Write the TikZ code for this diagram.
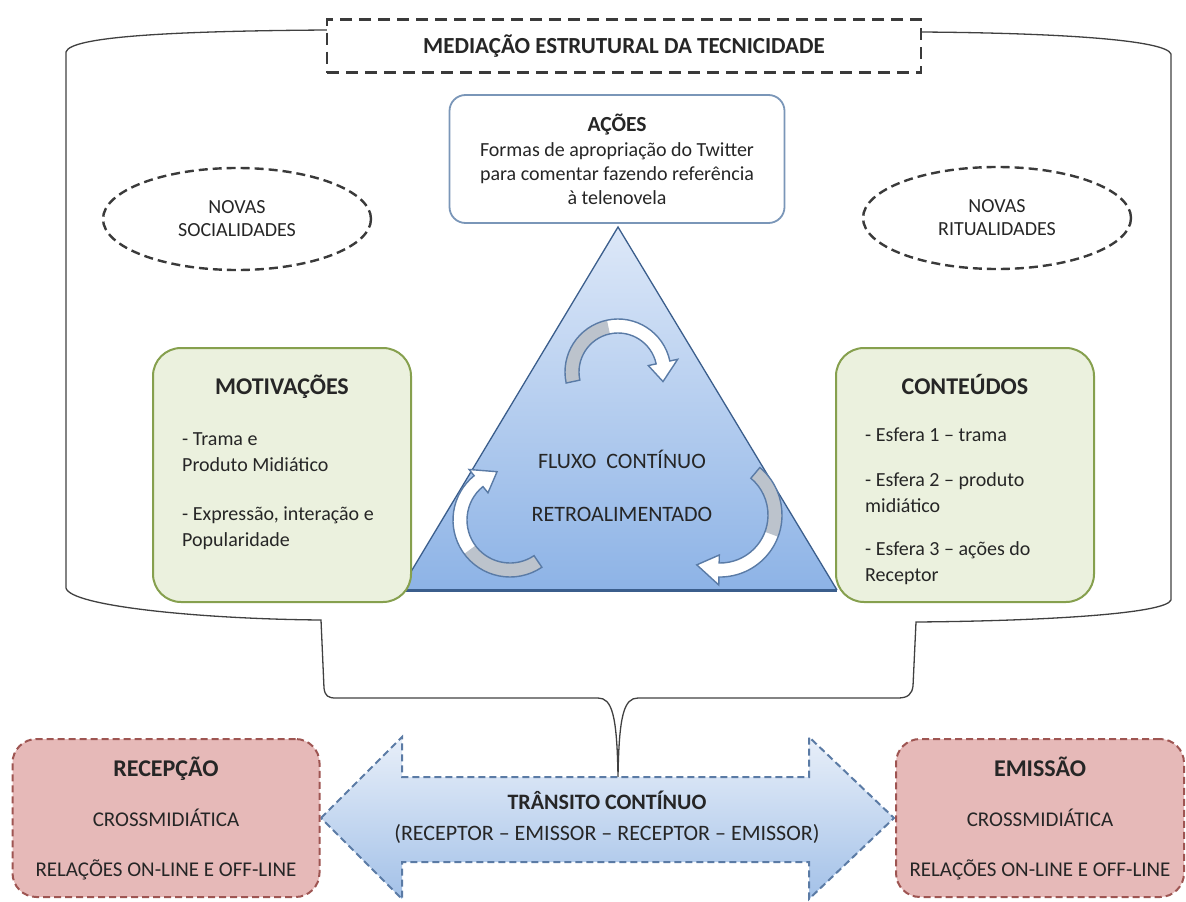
\documentclass[tikz,border=0pt]{standalone}
\usepackage{fontspec}
\setmainfont{Carlito}
\usepackage{tikz}
\usetikzlibrary{shapes.geometric,positioning,calc}
\definecolor{titlegray}{HTML}{3A3A3A}
\definecolor{bracegray}{HTML}{404040}
\definecolor{textgray}{HTML}{262626}
\definecolor{actblue}{HTML}{7A96B8}
\definecolor{boxgreen}{HTML}{86A04E}
\definecolor{fillgreen}{HTML}{EBF1DE}
\definecolor{boxred}{HTML}{9E5552}
\definecolor{fillred}{HTML}{E6B9B8}
\definecolor{tritop}{HTML}{DDE8F8}
\definecolor{tribottom}{HTML}{8DB3E6}
\definecolor{triedge}{HTML}{3B5E8C}
\definecolor{arrowtop}{HTML}{E8EFF9}
\definecolor{arrowbottom}{HTML}{A3C1E8}
\definecolor{arrowedge}{HTML}{5B7BA5}
\definecolor{fluxblue}{HTML}{5A7BA6}
\definecolor{fluxgray}{HTML}{BCC3CC}

% curved block arrow: centre x, centre y, radius, start angle, end angle
\newcommand{\fluxarrow}[5]{%
  \begin{scope}[shift={(#1,#2)}]
    \pgfmathsetmacro{\fbend}{#5+24}
    \pgfmathsetmacro{\fmid}{#4+0.5*(\fbend-#4)}
    \pgfmathsetmacro{\fro}{#3+7}
    \pgfmathsetmacro{\fri}{#3-7}
    \pgfmathsetmacro{\fho}{#3+15}
    \pgfmathsetmacro{\fhi}{#3-15}
    \fill[white] (#4:\fro) arc[start angle=#4, end angle=\fbend, radius=\fro] -- (\fbend:\fho) -- (#5:#3) -- (\fbend:\fhi) -- (\fbend:\fri) arc[start angle=\fbend, end angle=#4, radius=\fri] -- cycle;
    \fill[fluxgray] (#4:\fro) arc[start angle=#4, end angle=\fmid, radius=\fro] -- (\fmid:\fri) arc[start angle=\fmid, end angle=#4, radius=\fri] -- cycle;
    \draw[flux] (#4:\fro) arc[start angle=#4, end angle=\fbend, radius=\fro] -- (\fbend:\fho) -- (#5:#3) -- (\fbend:\fhi) -- (\fbend:\fri) arc[start angle=\fbend, end angle=#4, radius=\fri] -- cycle;
  \end{scope}}

\begin{document}
\begin{tikzpicture}[
  x=1pt, y=1pt,
  titlebox/.style={draw=titlegray, dash pattern=on 12pt off 7pt, line width=2.6pt, minimum width=594pt, minimum height=53pt, font=\fontsize{23}{28}\selectfont\bfseries},
  actbox/.style={draw=actblue, line width=1.8pt, rounded corners=16pt, fill=white, minimum width=335pt, minimum height=128pt, align=center, font=\fontsize{20}{24}\selectfont},
  greenbox/.style={draw=boxgreen, fill=fillgreen, line width=2pt, rounded corners=28pt, minimum width=258pt, minimum height=254pt},
  pinkbox/.style={draw=boxred, fill=fillred, dash pattern=on 7pt off 4pt, line width=2pt, rounded corners=24pt, minimum height=158pt, align=center, font=\fontsize{21}{50}\selectfont},
  social/.style={ellipse, draw=titlegray, dash pattern=on 9pt off 5pt, line width=2.4pt, minimum width=268pt, minimum height=102pt, align=center, font=\fontsize{20}{23}\selectfont, inner sep=0pt},
  heading/.style={font=\fontsize{24}{28}\selectfont\bfseries},
  itemlist/.style={align=left, anchor=west, font=\fontsize{20}{26}\selectfont, inner sep=0pt},
  brace/.style={draw=bracegray, line width=1.3pt},
  flux/.style={draw=fluxblue, line width=1.4pt},
  every node/.style={text=textgray},
]
\useasboundingbox (0,0) rectangle (1186,-902);

% Outer brace of the structural mediation
\draw[brace] (327,-30) .. controls (180,-31) and (70,-36) .. (66,-52)
  -- (66,-588) .. controls (70,-606) and (200,-619) .. (321,-620)
  -- (324,-688) .. controls (325,-696) and (328,-698) .. (336,-698)
  -- (598,-698) .. controls (612,-698) and (617,-715) .. (618,-777)
  .. controls (619,-715) and (624,-698) .. (638,-698)
  -- (898,-698) .. controls (908,-698) and (912,-694) .. (913,-686)
  -- (916,-622) .. controls (1040,-621) and (1166,-614) .. (1171,-600)
  -- (1171,-54) .. controls (1166,-40) and (1060,-33) .. (921,-32);

% Title
\node[titlebox, fill=white] (title) at (624,-46) {MEDIAÇÃO ESTRUTURAL DA TECNICIDADE};

% Triangle
\coordinate (apex) at (618,-227);
\coordinate (tl) at (400,-590);
\coordinate (tr) at (837,-590);
\shade[top color=tritop, bottom color=tribottom] (apex) -- (tr) -- (tl) -- cycle;
\draw[triedge, line width=1.3pt] (tl) -- (apex) -- (tr);
\draw[triedge, line width=3pt] (tl) -- (tr);

% Cycle arrows inside the triangle
\fluxarrow{618}{-372}{46}{192}{-12}
\fluxarrow{720}{-515}{55}{50}{-115}
\fluxarrow{510}{-520}{50}{-56}{-255}
\node[font=\fontsize{22}{53}\selectfont, align=center] (fluxo) at (622,-486) {FLUXO~~CONTÍNUO\\RETROALIMENTADO};

% Top box
\node[actbox] (acoes) at (617,-159) {{\fontsize{21.5}{26}\selectfont\bfseries AÇÕES}\\[1pt]Formas de apropriação do Twitter\\para comentar fazendo referência\\à telenovela};

% Ellipses
\node[social] (socia) at (237,-219) {NOVAS\\SOCIALIDADES};
\node[social] (ritua) at (997,-218) {NOVAS\\RITUALIDADES};

% Side boxes
\node[greenbox] (motiv) at (282,-475) {};
\node[heading] (motivh) at (282,-387) {MOTIVAÇÕES};
\node[itemlist] (motivl) at (182,-491) {- Trama e\\Produto Midiático\\[23pt]- Expressão, interação e\\Popularidade};

\node[greenbox] (conte) at (965,-475) {};
\node[heading] (conteh) at (965,-385) {CONTEÚDOS};
\node[itemlist] (contel) at (865,-506) {- Esfera 1 -- trama\\[19pt]- Esfera 2 -- produto\\midiático\\[17pt]- Esfera 3 -- ações do\\Receptor};

% Double arrow
\path[top color=arrowtop, bottom color=arrowbottom, draw=arrowedge, dash pattern=on 7pt off 4pt, line width=2pt]
  (321,-818) -- (402,-737) -- (402,-777) -- (809,-777) -- (809,-737) -- (894,-818)
  -- (809,-899) -- (809,-862) -- (402,-862) -- (402,-899) -- cycle;
\node[font=\fontsize{22}{31}\selectfont, align=center] (transito) at (607,-817) {\textbf{TRÂNSITO CONTÍNUO}\\(RECEPTOR -- EMISSOR -- RECEPTOR -- EMISSOR)};

% Bottom boxes
\node[pinkbox, minimum width=307pt] (recep) at (166,-818) {{\fontsize{24}{28}\selectfont\bfseries RECEPÇÃO}\\CROSSMIDIÁTICA\\RELAÇÕES ON-LINE E OFF-LINE};
\node[pinkbox, minimum width=288pt] (emiss) at (1040,-818) {{\fontsize{24}{28}\selectfont\bfseries EMISSÃO}\\CROSSMIDIÁTICA\\RELAÇÕES ON-LINE E OFF-LINE};

\end{tikzpicture}
\end{document}
